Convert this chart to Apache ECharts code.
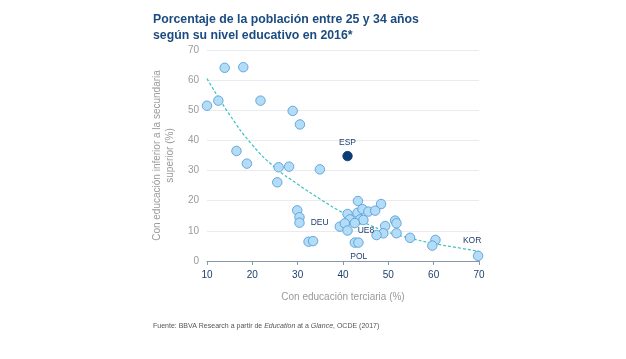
<!DOCTYPE html>
<html><head><meta charset="utf-8">
<script src="https://cdn.jsdelivr.net/npm/echarts@6/dist/echarts.min.js"></script>
<style>html,body{margin:0;padding:0;background:#fff}#c{width:626px;height:359px}</style>
</head><body><div id="c"></div>
<script>
// Data
const terciaria = [10.0,12.5,13.9,18.0,21.8,28.9,30.5,16.5,18.8,25.8,28.1,25.5,34.9,29.9,30.4,30.4,32.4,33.4,39.3,41.0,43.3,48.4,41.0,43.2,44.3,45.6,47.1,41.5,40.4,41.0,43.8,44.5,42.6,51.5,51.8,49.3,48.9,47.4,51.8,54.8,42.6,43.4,60.4,59.7,69.8];
const inferior  = [51.5,53.2,64.1,64.3,53.2,49.8,45.3,36.5,32.3,31.1,31.3,26.1,30.4,16.8,14.5,12.7,6.4,6.6,11.4,34.8,19.9,18.9,15.6,16.0,17.2,16.4,16.7,13.8,12.5,10.1,13.8,13.6,12.6,13.4,12.5,11.6,9.2,8.6,9.2,7.7,6.1,6.1,7.0,5.1,1.7];
const etiquetas = ["","","","","","","","","","","","","","","","DEU","","","","ESP","","","","","","","","","","UE8","","","","","","","","","","","POL","","","","KOR"];
const destacado = "ESP";
const tendenciaX = [10,15,20,25,30,35,40,45,50,55,60,65,70];
const tendenciaY = [60.5,48.5,38.5,31.0,25.5,20.5,16.0,12.5,9.5,7.5,5.8,4.5,3.2];
const xTicks = [10,20,30,40,50,60,70];
const yTicks = [0,10,20,30,40,50,60,70];

const labelPos = {DEU:{position:'right',distance:6}, ESP:{position:'top',distance:4}, UE8:{position:'right',distance:5}, POL:{position:'bottom',distance:4, offset:[4,0]}, KOR:{position:'top',distance:6, offset:[-6,0]}};

const pts = terciaria.map((x,i)=>{
  const name = etiquetas[i];
  const item = {value:[x,inferior[i]], name:name};
  if (name) {
    const lp = labelPos[name];
    item.label = Object.assign({show:true, formatter:name, color:'#1d3f6e', fontSize:8.5, fontFamily:'Liberation Sans, Arial'}, lp);
  }
  if (name === destacado) item.itemStyle = {color:'#0b3c74', borderColor:'#0b3c74'};
  return item;
});

const chart = echarts.init(document.getElementById('c'), null, {renderer:'canvas'});
chart.setOption({
  animation:false,
  backgroundColor:'#fff',
  title:{text:'Porcentaje de la población entre 25 y 34 años\nsegún su nivel educativo en 2016*', left:148, top:7,
    textStyle:{fontFamily:'Liberation Sans, Arial', fontSize:12.3, fontWeight:'bold', color:'#1c4b80', lineHeight:16}},
  graphic:[{type:'text', left:153, top:323, style:{
    text:'{n|Fuente: BBVA Research a partir de }{i|Education}{n| at a }{i|Glance}{n|, OCDE (2017)}',
    rich:{n:{fontSize:7, fontFamily:'Liberation Sans, Arial', fill:'#555'}, i:{fontSize:7, fontStyle:'italic', fontFamily:'Liberation Sans, Arial', fill:'#555'}}}}],
  grid:{left:207, right:147, top:50, bottom:98},
  xAxis:{type:'value', min:10, max:70, interval:10,
    name:'Con educación terciaria (%)', nameLocation:'middle', nameGap:31,
    nameTextStyle:{color:'#9a9a9a', fontSize:10, fontFamily:'Liberation Sans, Arial'},
    axisLine:{show:true, lineStyle:{color:'#8a97a8'}}, axisTick:{show:true, length:4, lineStyle:{color:'#8a97a8'}},
    axisLabel:{color:'#1d3f6e', fontSize:10, fontFamily:'Liberation Sans, Arial', margin:9, formatter:v=>xTicks.includes(v)?String(v):''},
    splitLine:{show:false}},
  yAxis:{type:'value', min:0, max:70, interval:10,
    name:'Con educación inferior a la secundaria\nsuperior (%)', nameLocation:'middle', nameGap:30,
    nameTextStyle:{color:'#9a9a9a', fontSize:10, fontFamily:'Liberation Sans, Arial', lineHeight:13},
    axisLine:{show:false}, axisTick:{show:false},
    axisLabel:{color:'#9a9a9a', fontSize:10, fontFamily:'Liberation Sans, Arial', margin:8, formatter:v=>yTicks.includes(v)?String(v):''},
    splitLine:{show:true, lineStyle:{color:'#e8ecf0', width:1}}},
  series:[
    {type:'line', data:tendenciaX.map((x,i)=>[x,tendenciaY[i]]), smooth:true, symbol:'none',
      lineStyle:{color:'#3fc0c3', width:1.2, type:[3,2]}, z:1, silent:true},
    {type:'scatter', data:pts, symbolSize:9.5,
      itemStyle:{color:'#b3dcf6', borderColor:'#4c97d6', borderWidth:0.8, opacity:1}, z:2}
  ]
});
</script></body></html>
